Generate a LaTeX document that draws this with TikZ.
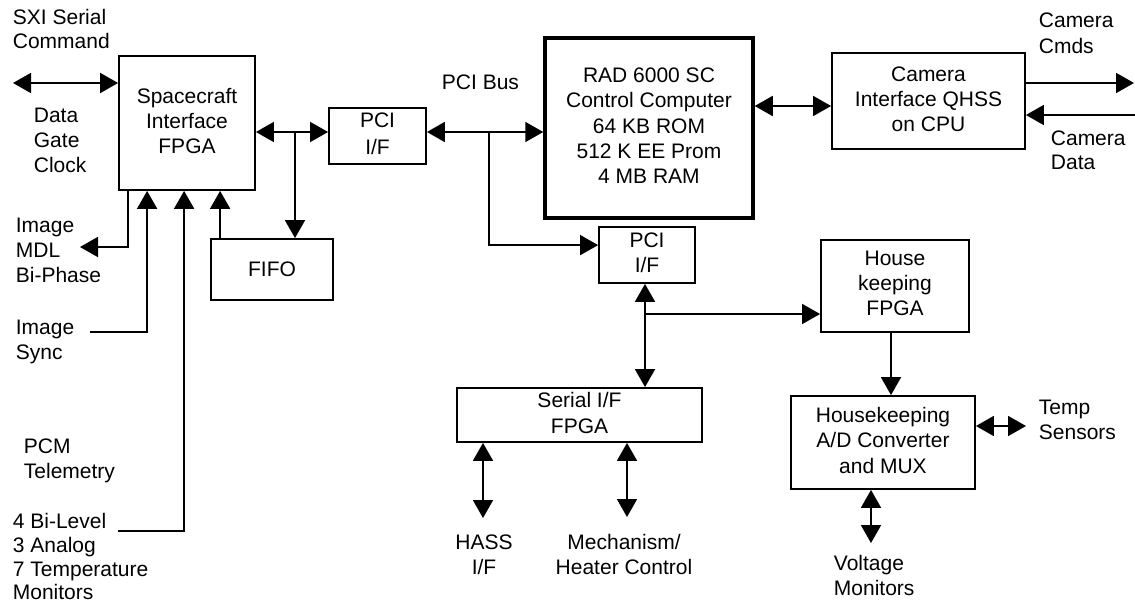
\documentclass[tikz,border=0pt]{standalone}
\usepackage{fontspec}
\setmainfont{Liberation Sans}
\usetikzlibrary{arrows.meta,calc}
\newcommand\lstrut{\rule[-4.6pt]{0pt}{23.6pt}}
\begin{document}
\begin{tikzpicture}[x=1pt,y=-1pt,
  >={Triangle[length=18pt,width=20pt]},
  line width=1.8pt,
  txt/.style={inner sep=0pt, font=\fontsize{21}{25}\selectfont,
    execute at begin node=\lstrut, execute at end node=\lstrut},
  box/.style={txt, draw, align=center},
  lbl/.style={txt, align=left, anchor=west},
  ctr/.style={txt, align=center, anchor=center}]
\useasboundingbox (0,0) rectangle (1135,607);

% boxes
\node[box, minimum width=136pt, minimum height=134pt] (sif) at (187,123) {Spacecraft\\Interface\\FPGA};
\node[box, minimum width=122pt, minimum height=61pt] (fifo) at (272,269.5) {FIFO};
\node[box, minimum width=97pt, minimum height=56pt, font=\fontsize{21}{27}\selectfont] (pci1) at (377.5,136) {PCI\\I/F};
\node[box, line width=3.5pt, minimum width=208pt, minimum height=180pt, font=\fontsize{21}{25.25}\selectfont] (rad) at (649,128) {RAD 6000 SC\\Control Computer\\64 KB ROM\\512 K EE Prom\\4 MB RAM};
\node[box, minimum width=193pt, minimum height=96pt] (cam) at (928.5,101) {Camera\\Interface QHSS\\on CPU};
\node[box, minimum width=96pt, minimum height=56pt, font=\fontsize{21}{25.5}\selectfont] (pci2) at (647,255) {PCI\\I/F};
\node[box, minimum width=148pt, minimum height=92pt] (hk) at (895,286) {House\\keeping\\FPGA};
\node[box, minimum width=184pt, minimum height=93pt, font=\fontsize{21}{25.7}\selectfont] (hkad) at (883,442.5) {Housekeeping\\A/D Converter\\and MUX};
\node[box, minimum width=245pt, minimum height=54pt, font=\fontsize{21}{25.5}\selectfont] (ser) at (579.5,415) {Serial I/F\\FPGA};

% labels
\node[lbl, font=\fontsize{21}{23.5}\selectfont] (sxi) at (12,31) {SXI Serial\\Command};
\node[lbl] (dgc) at (33,142.5) {Data\\Gate\\Clock};
\node[lbl] (mdlt) at (15,253) {Image\\MDL\\Bi-Phase};
\node[lbl] (synct) at (15,342) {Image\\Sync};
\node[lbl, font=\fontsize{21}{24.5}\selectfont] (pcm) at (23,461) {PCM\\Telemetry};
\node[lbl, font=\fontsize{21}{23.7}\selectfont] (bil) at (12,559) {4 Bi-Level\\3 Analog\\7 Temperature\\Monitors};
\node[ctr] (pcibus) at (480.5,82.5) {PCI Bus};
\node[lbl, font=\fontsize{21}{25.5}\selectfont] (cmds) at (1038,35.5) {Camera\\Cmds};
\node[lbl, font=\fontsize{21}{24}\selectfont] (cdata) at (1050,152) {Camera\\Data};
\node[ctr] (hass) at (484,557) {HASS\\I/F};
\node[ctr] (mech) at (624,557) {Mechanism/\\Heater Control};
\node[lbl] (temp) at (1038,422) {Temp\\Sensors};
\node[lbl] (volt) at (833,577.5) {Voltage\\Monitors};

% free ends and junctions
\coordinate (sxiend) at (13,83);
\coordinate (mdl) at (80,247);
\coordinate (isync) at (90,332);
\coordinate (bilev) at (118,531);
\coordinate (j1) at (295,132);
\coordinate (j2) at (489,132);
\coordinate (j4) at (790,106);
\coordinate (cmdend) at (1134,83);
\coordinate (datend) at (1135,115);
\coordinate (j5) at (645,314);
\coordinate (tempend) at (1026,426);
\coordinate (voltend) at (871,543);
\coordinate (hassend) at (483,518);
\coordinate (mechend) at (627,517);

% connectors
\draw[<->] (sxiend) -- (sxiend -| sif.west);
\draw[->] ([xshift=10pt]sif.south west) |- (mdl);
\draw[->] (isync) -| ([xshift=29pt]sif.south west);
\draw[->] (bilev) -| ([xshift=66pt]sif.south west);
\draw[->] ([xshift=10pt]fifo.north west) -- ([xshift=10pt]fifo.north west |- sif.south);
\draw[<->] (j1 -| sif.east) -- (j1 -| pci1.west);
\draw[->] (j1) -- (j1 |- fifo.north);
\draw[<->] (j2 -| pci1.east) -- (j2 -| rad.west);
\draw[->] (j2) |- ([yshift=-19pt]pci2.north west);
\draw[<->] (j4 -| rad.east) -- (j4 -| cam.west);
\draw[->] (cmdend -| cam.east) -- (cmdend);
\draw[->] (datend) -- (datend -| cam.east);
\draw[<->] (j5 |- pci2.south) -- (j5 |- ser.north);
\draw[->] (j5) -- (j5 -| hk.west);
\draw[->] ([xshift=-4pt]hk.south) -- ([xshift=-4pt]hk.south |- hkad.north);
\draw[<->] (tempend -| hkad.east) -- (tempend);
\draw[<->] (voltend |- hkad.south) -- (voltend);
\draw[<->] (hassend |- ser.south) -- (hassend);
\draw[<->] (mechend |- ser.south) -- (mechend);
\end{tikzpicture}
\end{document}
